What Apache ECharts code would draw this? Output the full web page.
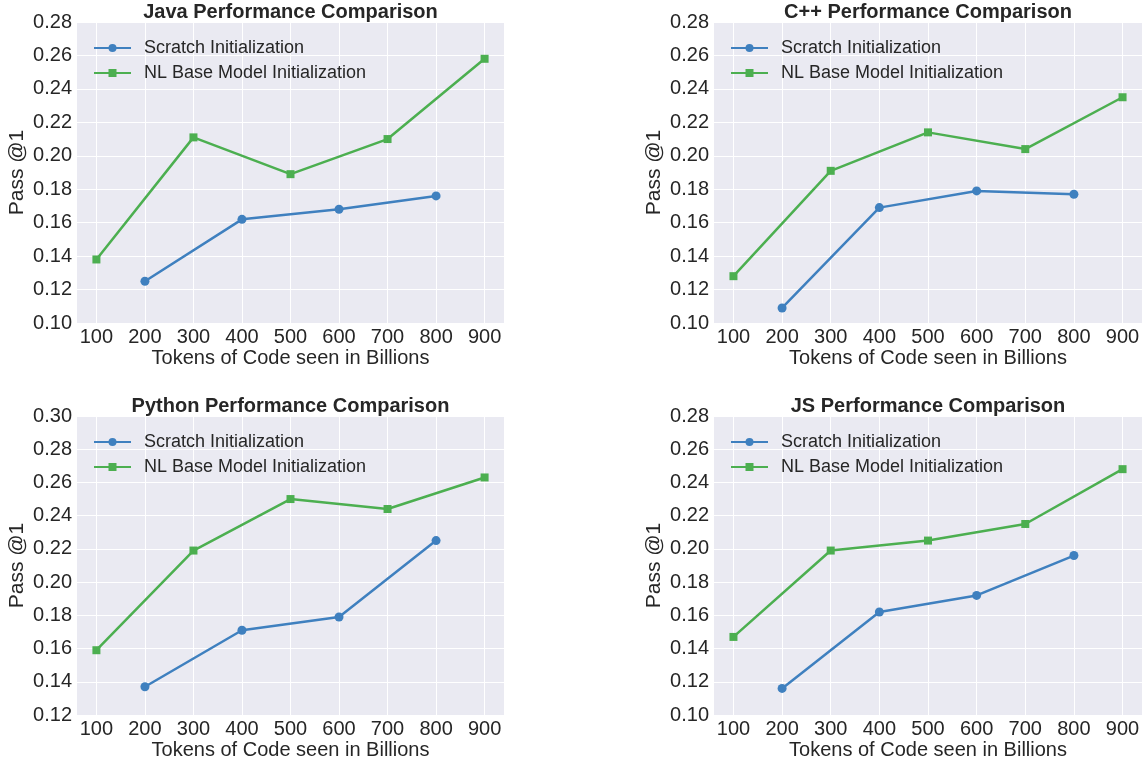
<!DOCTYPE html>
<html>
<head>
<meta charset="utf-8">
<script src="https://cdn.jsdelivr.net/npm/echarts@6/dist/echarts.min.js"></script>
<style>
html,body{margin:0;padding:0;background:#fff;}
#chart{width:1145px;height:763px;}
</style>
</head>
<body>
<div id="chart"></div>
<script>
const xScratch = [200, 400, 600, 800];
const xNL = [100, 300, 500, 700, 900];
const xTicks = [100, 200, 300, 400, 500, 600, 700, 800, 900];

const titles = ['Java Performance Comparison', 'C++ Performance Comparison', 'Python Performance Comparison', 'JS Performance Comparison'];

const javaScratch = [0.125, 0.162, 0.168, 0.176];
const javaNL = [0.138, 0.211, 0.189, 0.210, 0.258];
const cppScratch = [0.109, 0.169, 0.179, 0.177];
const cppNL = [0.128, 0.191, 0.214, 0.204, 0.235];
const pyScratch = [0.137, 0.171, 0.179, 0.225];
const pyNL = [0.159, 0.219, 0.250, 0.244, 0.263];
const jsScratch = [0.116, 0.162, 0.172, 0.196];
const jsNL = [0.147, 0.199, 0.205, 0.215, 0.248];

const yMins = [0.10, 0.10, 0.12, 0.10];
const yMaxs = [0.28, 0.28, 0.30, 0.28];

const scratchSets = [javaScratch, cppScratch, pyScratch, jsScratch];
const nlSets = [javaNL, cppNL, pyNL, jsNL];

const FONT = 'Liberation Sans, Arial, sans-serif';
const TXT = '#262626';
const BLUE = '#3f80bf';
const GREEN = '#4caf50';

const panels = [
  {left: 77, top: 22, width: 427, height: 301},
  {left: 714, top: 22, width: 428, height: 301},
  {left: 77, top: 416, width: 427, height: 299},
  {left: 714, top: 416, width: 428, height: 299}
];

const chart = echarts.init(document.getElementById('chart'));
const grid = [], xAxis = [], yAxis = [], series = [], title = [], legend = [];

panels.forEach((p, i) => {
  grid.push({left: p.left, top: p.top, width: p.width, height: p.height,
    show: true, backgroundColor: '#eaeaf2', borderWidth: 0, containLabel: false});
  title.push({text: titles[i], left: p.left + p.width / 2, top: p.top - 20, textAlign: 'center', padding: 0,
    textStyle: {fontFamily: FONT, fontSize: 20, fontWeight: 'bold', color: TXT}});
  xAxis.push({type: 'value', gridIndex: i, min: 60, max: 940,
    name: 'Tokens of Code seen in Billions', nameLocation: 'middle', nameGap: 25,
    nameTextStyle: {fontFamily: FONT, fontSize: 20, color: TXT},
    axisLine: {show: false}, axisTick: {show: false, customValues: xTicks},
    axisLabel: {customValues: xTicks, fontFamily: FONT, fontSize: 20, color: TXT, margin: 4},
    splitLine: {show: true, lineStyle: {color: '#ffffff', width: 1}}});
  yAxis.push({type: 'value', gridIndex: i, min: yMins[i], max: yMaxs[i], interval: 0.02,
    name: 'Pass @1', nameLocation: 'middle', nameGap: 49,
    nameTextStyle: {fontFamily: FONT, fontSize: 21, color: TXT},
    axisLine: {show: false}, axisTick: {show: false},
    axisLabel: {fontFamily: FONT, fontSize: 20, color: TXT, margin: 5, formatter: v => v.toFixed(2)},
    splitLine: {show: true, lineStyle: {color: '#ffffff', width: 1}}});
  series.push({name: 'Scratch Initialization', type: 'line', xAxisIndex: i, yAxisIndex: i,
    data: xScratch.map((x, k) => [x, scratchSets[i][k]]),
    symbol: 'circle', symbolSize: 9, itemStyle: {color: BLUE}, lineStyle: {color: BLUE, width: 2.5}, z: 3});
  series.push({name: 'NL Base Model Initialization', type: 'line', xAxisIndex: i, yAxisIndex: i,
    data: xNL.map((x, k) => [x, nlSets[i][k]]),
    symbol: 'rect', symbolSize: 8, itemStyle: {color: GREEN}, lineStyle: {color: GREEN, width: 2.5}, z: 3});
  legend.push({orient: 'vertical', left: p.left + 11, top: p.top + 12, itemWidth: 37, itemHeight: 10, itemGap: 7,
    selectedMode: false,
    data: ['Scratch Initialization', 'NL Base Model Initialization'],
    textStyle: {fontFamily: FONT, fontSize: 18, color: TXT, padding: [0, 0, 0, 8]}});
});

chart.setOption({animation: false, backgroundColor: '#ffffff', title, grid, xAxis, yAxis, series, legend});
</script>
</body>
</html>
